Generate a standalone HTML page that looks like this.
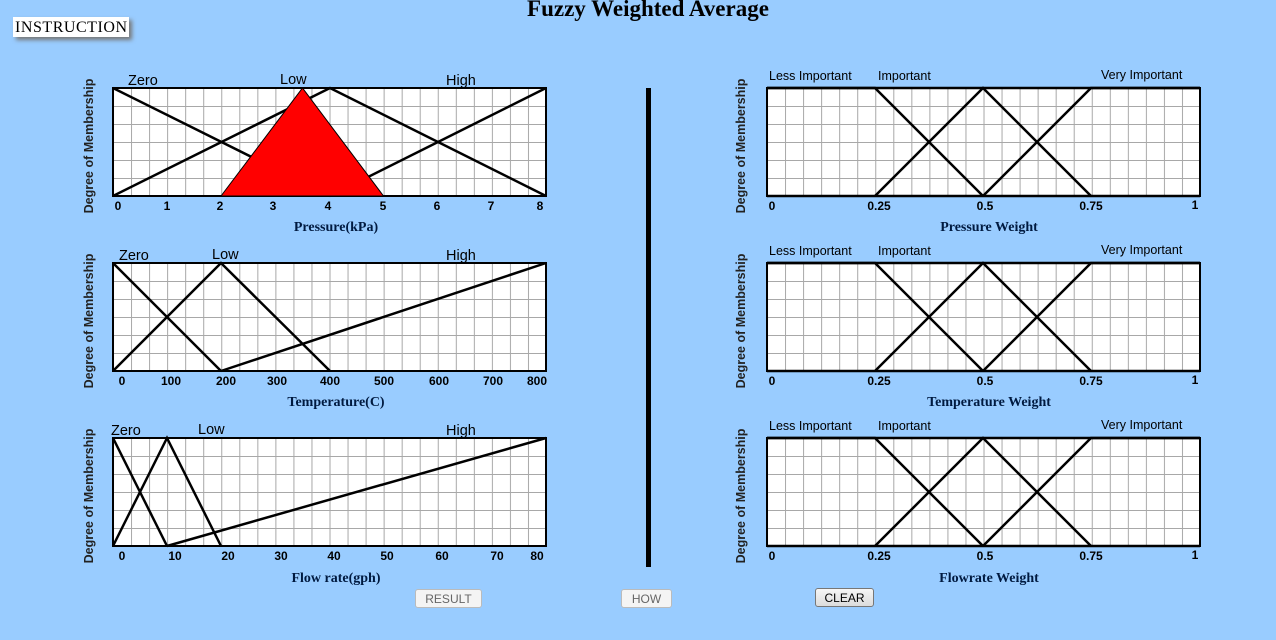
<!DOCTYPE html>
<html><head><meta charset="utf-8"><style>
html,body{margin:0;padding:0;background:#99ccff;width:1276px;height:640px;overflow:hidden;}
svg{position:absolute;left:0;top:0}
.btn{position:absolute;height:19px;border:1px solid #bbb;border-radius:3px;background:#f4f4f4;color:#666;font:12px "Liberation Sans",sans-serif;text-align:center;line-height:19px;box-sizing:border-box}
</style></head><body>
<svg width="1276" height="640" xmlns="http://www.w3.org/2000/svg">
<defs>
<pattern id="g" x="0" y="0" width="18.042" height="18" patternUnits="userSpaceOnUse">
<rect width="18.042" height="18" fill="#fff"/>
<line x1="0" y1="0" x2="0" y2="18" stroke="#a8a8a8" stroke-width="2"/>
<line x1="0" y1="0" x2="18.042" y2="0" stroke="#a8a8a8" stroke-width="2"/>
</pattern>
<g id="plot"><rect x="0" y="0" width="433" height="108" fill="url(#g)"/><rect x="0" y="0" width="433" height="108" fill="none" stroke="#000" stroke-width="2"/></g>
<g id="ylab"><text transform="rotate(-90)" x="0" y="0" text-anchor="middle" font-family="Liberation Sans,sans-serif" font-weight="bold" font-size="12.5" fill="#222">Degree of Membership</text></g>
</defs>
<rect x="13" y="17" width="116" height="20" fill="#fff" style="filter:drop-shadow(3px 3px 2px #777)"/>
<text x="15" y="32" font-family="Liberation Serif,serif" font-size="16" fill="#000" textLength="112">INSTRUCTION</text>
<text x="648" y="16" text-anchor="middle" font-family="Liberation Serif,serif" font-weight="bold" font-size="23" fill="#000">Fuzzy Weighted Average</text>
<rect x="646" y="88" width="5" height="479" fill="#000"/>

<g font-family="Liberation Sans,sans-serif" fill="#000">
<use href="#ylab" x="93" y="146"/>
<g transform="translate(113,88)"><use href="#plot"/>
<polyline points="0,0 217,108" fill="none" stroke="#000" stroke-width="2.5"/>
<polyline points="0,108 217,0 433,108" fill="none" stroke="#000" stroke-width="2.5"/>
<polyline points="217,108 433,0" fill="none" stroke="#000" stroke-width="2.5"/>
<polygon points="108,108 189.5,0 270.5,108" fill="#ff0000" stroke="#000" stroke-width="1"/>
</g>
<g font-size="14.5"><text x="128" y="85">Zero</text><text x="280" y="84">Low</text><text x="446" y="85">High</text></g>
<g font-size="12" font-weight="bold" text-anchor="middle"><text x="118" y="210">0</text><text x="167" y="210">1</text><text x="220" y="210">2</text><text x="273" y="210">3</text><text x="328" y="210">4</text><text x="383" y="210">5</text><text x="437" y="210">6</text><text x="491" y="210">7</text><text x="540" y="210">8</text></g>
<text x="336" y="231" text-anchor="middle" font-family="Liberation Serif,serif" font-weight="bold" font-size="14" fill="#001a40">Pressure(kPa)</text>

<use href="#ylab" x="93" y="321"/>
<g transform="translate(113,263)"><use href="#plot"/>
<polyline points="0,0 108,108" fill="none" stroke="#000" stroke-width="2.5"/>
<polyline points="0,108 108,0 217,108" fill="none" stroke="#000" stroke-width="2.5"/>
<polyline points="108,108 433,0" fill="none" stroke="#000" stroke-width="2.5"/>
</g>
<g font-size="14.5"><text x="119" y="260">Zero</text><text x="212" y="259">Low</text><text x="446" y="260">High</text></g>
<g font-size="12" font-weight="bold" text-anchor="middle"><text x="122" y="385">0</text><text x="171" y="385">100</text><text x="226" y="385">200</text><text x="277" y="385">300</text><text x="330" y="385">400</text><text x="384" y="385">500</text><text x="439" y="385">600</text><text x="493" y="385">700</text><text x="537" y="385">800</text></g>
<text x="336" y="406" text-anchor="middle" font-family="Liberation Serif,serif" font-weight="bold" font-size="14" fill="#001a40">Temperature(C)</text>

<use href="#ylab" x="93" y="496"/>
<g transform="translate(113,438)"><use href="#plot"/>
<polyline points="0,0 54,108" fill="none" stroke="#000" stroke-width="2.5"/>
<polyline points="0,108 54,0 108,108" fill="none" stroke="#000" stroke-width="2.5"/>
<polyline points="54,108 433,0" fill="none" stroke="#000" stroke-width="2.5"/>
</g>
<g font-size="14.5"><text x="111" y="435">Zero</text><text x="198" y="434">Low</text><text x="446" y="435">High</text></g>
<g font-size="12" font-weight="bold" text-anchor="middle"><text x="122" y="560">0</text><text x="175" y="560">10</text><text x="228" y="560">20</text><text x="281" y="560">30</text><text x="334" y="560">40</text><text x="387" y="560">50</text><text x="442" y="560">60</text><text x="497" y="560">70</text><text x="537" y="560">80</text></g>
<text x="336" y="582" text-anchor="middle" font-family="Liberation Serif,serif" font-weight="bold" font-size="14" fill="#001a40">Flow rate(gph)</text>

<g id="rp">
<use href="#ylab" x="745" y="146"/>
<g transform="translate(767,88)"><use href="#plot"/>
<polyline points="0,0 108,0 216,108" fill="none" stroke="#000" stroke-width="2.5"/>
<polyline points="108,108 216,0 324,108" fill="none" stroke="#000" stroke-width="2.5"/>
<polyline points="216,108 324,0 433,0" fill="none" stroke="#000" stroke-width="2.5"/>
<line x1="0" y1="108" x2="433" y2="108" stroke="#000" stroke-width="2.5"/>
<line x1="0" y1="0" x2="433" y2="0" stroke="#000" stroke-width="2.5"/>
</g>
<g font-size="12.5"><text x="769" y="80">Less Important</text><text x="878" y="80">Important</text><text x="1101" y="79">Very Important</text></g>
<g font-size="12" font-weight="bold" text-anchor="middle"><text x="772" y="210">0</text><text x="879" y="210">0.25</text><text x="985" y="210">0.5</text><text x="1091" y="210">0.75</text><text x="1195" y="209">1</text></g>
</g>
<text x="989" y="231" text-anchor="middle" font-family="Liberation Serif,serif" font-weight="bold" font-size="14" fill="#001a40">Pressure Weight</text>
<use href="#rp" y="175"/>
<text x="989" y="406" text-anchor="middle" font-family="Liberation Serif,serif" font-weight="bold" font-size="14" fill="#001a40">Temperature Weight</text>
<use href="#rp" y="350"/>
<text x="989" y="582" text-anchor="middle" font-family="Liberation Serif,serif" font-weight="bold" font-size="14" fill="#001a40">Flowrate Weight</text>
</g>
</svg>
<div class="btn" style="left:415px;top:589px;width:67px">RESULT</div>
<div class="btn" style="left:621px;top:589px;width:51px">HOW</div>
<div class="btn" style="left:815px;top:588px;width:59px;border-color:#777;color:#000;background:linear-gradient(#f6f6f6,#dcdcdc)">CLEAR</div>
</body></html>
